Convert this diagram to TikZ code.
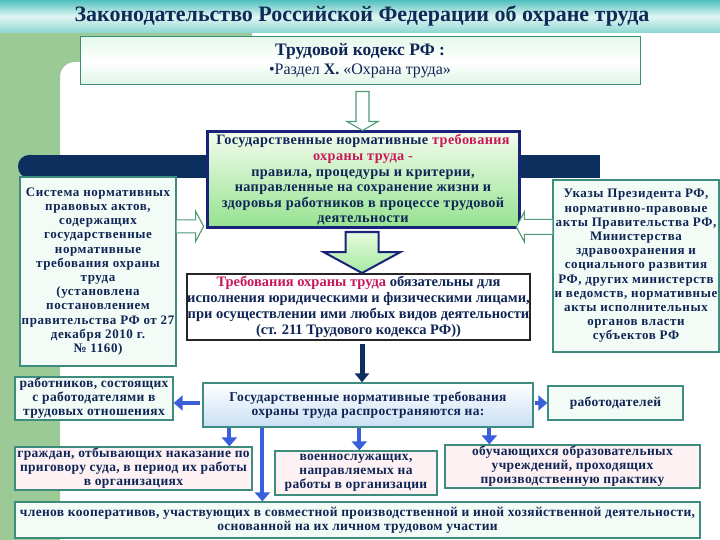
\documentclass[tikz,border=0pt]{standalone}
\usepackage{fontspec}
\setmainfont{Liberation Serif}
\newfontfamily\lsA{Liberation Serif}[LetterSpace=4.5]
\newfontfamily\lsB{Liberation Serif}[LetterSpace=2.5]
\newfontfamily\lsC{Liberation Serif}[LetterSpace=2.5]
\usetikzlibrary{calc,arrows.meta}
\definecolor{txtnavy}{HTML}{0F2556}
\definecolor{titlenavy}{HTML}{0E2A57}
\definecolor{crim}{HTML}{C8185A}
\definecolor{tealb}{HTML}{3E8C7E}
\definecolor{mintf}{HTML}{F2FBF5}
\definecolor{pinkf}{HTML}{FDF1F4}
\definecolor{gstrip}{HTML}{9CCA97}
\definecolor{bandnavy}{HTML}{0D2F5E}
\definecolor{cborder}{HTML}{19237A}
\definecolor{bluearr}{HTML}{3A5FDB}
\definecolor{hollowg}{HTML}{4E9B76}
\definecolor{tbtop}{HTML}{4FC0BD}
\definecolor{tbmid}{HTML}{E2F6F4}
\definecolor{tbbot}{HTML}{8AD6D1}
\definecolor{tktop}{HTML}{E4F8EA}
\definecolor{tkbot}{HTML}{E0F5E6}
\definecolor{centop}{HTML}{F3FCEC}
\definecolor{cenbot}{HTML}{94E290}
\definecolor{mbbot}{HTML}{C9DFF4}
\definecolor{artop}{HTML}{E6FBDF}
\definecolor{arbot}{HTML}{A6EAA2}
\tikzset{
  box/.style={draw=tealb, line width=1.3pt, align=center, inner sep=0pt, text=txtnavy},
  mintbox/.style={box, fill=mintf},
  pinkbox/.style={box, fill=pinkf},
  fa/.style={font=\lsA\fontsize{13}{14.2}\selectfont\bfseries},
  fb/.style={font=\fontsize{14.5}{16.2}\selectfont\bfseries},
  fbc/.style={font=\lsB\fontsize{14.3}{15.6}\selectfont\bfseries},
  fc/.style={font=\lsC\fontsize{13.5}{14}\selectfont\bfseries},
  hollowarr/.style={draw=hollowg, line width=1.1pt, fill=white, line join=miter},
  bluearrow/.style={draw=bluearr, line width=4pt, -{Triangle[width=15pt,length=9pt]}},
}
\begin{document}
\begin{tikzpicture}[x=1pt,y=-1pt]
\useasboundingbox (0,0) rectangle (720,540);
\fill[white] (0,0) rectangle (720,540);
% green strip
\fill[gstrip] (0,33) -- (252,33) -- (252,62) -- (75,62) .. controls (66.7,62) and (60,68.3) .. (60,77) -- (60,540) -- (0,540) -- cycle;
% title band
\fill[top color=tbtop, bottom color=tbbot, middle color=tbmid] (0,0) rectangle (720,33);
\node[font=\fontsize{22}{24}\selectfont\bfseries, text=titlenavy] (title) at (362,16) {Законодательство Российской Федерации об охране труда};
% navy band
\fill[bandnavy, rounded corners=11pt] (18,155) rectangle (44,178);
\fill[bandnavy] (30,155) rectangle (600,178);
% box 1
\node[box, line width=1pt, top color=tktop, bottom color=tkbot, middle color=white, minimum width=560, minimum height=48] (tk) at (360,61)
  {{\fontsize{17.5}{19}\selectfont\bfseries Трудовой кодекс РФ :}\\[4pt]{\fontsize{16}{17}\selectfont •Раздел \textbf{X.} «Охрана труда»}};
% central box
\node[box, fbc, draw=cborder, line width=3pt, top color=centop, bottom color=cenbot, minimum width=312, minimum height=96] (cen) at (363,180)
  {Государственные нормативные \textcolor{crim}{требования}\\
   \textcolor{crim}{охраны труда -}\\
   правила, процедуры и критерии,\\
   направленные на сохранение жизни и\\
   здоровья работников в процессе трудовой\\
   деятельности};
% requirement box
\node[box, fb, draw=black!85, line width=2pt, fill=white, minimum width=337, minimum height=66] (req) at (358.5,307)
  {\textcolor{crim}{Требования охраны труда} обязательны для\\
   исполнения юридическими и физическими лицами,\\
   при осуществлении ими любых видов деятельности\\
   (ст. 211 Трудового кодекса РФ))};
% left system box
\node[mintbox, fa, minimum width=156, minimum height=189] (sys) at (98,271.5)
  {Система нормативных\\ правовых актов,\\ содержащих\\ государственные\\ нормативные\\ требования охраны\\ труда\\ (установлена\\ постановлением\\ правительства РФ от 27\\ декабря 2010 г.\\ № 1160)};
% right box
\node[mintbox, fa, minimum width=166, minimum height=172] (ukaz) at (636,266)
  {Указы Президента РФ,\\ нормативно-правовые\\ акты Правительства РФ,\\ Министерства\\ здравоохранения и\\ социального развития\\ РФ, других министерств\\ и ведомств, нормативные\\ акты исполнительных\\ органов власти\\ субъектов РФ};
% bottom main box
\node[box, fc, top color=white, bottom color=mbbot, minimum width=330, minimum height=44] (mainb) at (368,405)
  {Государственные нормативные требования\\ охраны труда распространяются на:};
\node[mintbox, fc, minimum width=158, minimum height=43] (wrk) at (94,398.5)
  {работников, состоящих\\ с работодателями в\\ трудовых отношениях};
\node[mintbox, fc, minimum width=135, minimum height=34] (emp) at (615.5,403) {работодателей};
\node[pinkbox, fc, minimum width=237, minimum height=43] (gr) at (133.5,468.5)
  {граждан, отбывающих наказание по\\ приговору суда, в период их работы\\ в организациях};
\node[pinkbox, fc, minimum width=162, minimum height=44] (mil) at (356,473)
  {военнослужащих,\\ направляемых на\\ работы в организации};
\node[pinkbox, fc, minimum width=255, minimum height=43] (stu) at (572.5,466.5)
  {обучающихся образовательных\\ учреждений, проходящих\\ производственную практику};
\node[mintbox, fc, minimum width=685, minimum height=36] (coop) at (357.5,520)
  {членов кооперативов, участвующих в совместной производственной и иной хозяйственной деятельности,\\ основанной на их личном трудовом участии};
% hollow arrow tk -> cen
\coordinate (t1) at ($(cen.north)+(-0.5,0)$);
\draw[hollowarr] ($(t1)+(-6.5,-39)$) -- ($(t1)+(6.5,-39)$) -- ($(t1)+(6.5,-9)$) -- ($(t1)+(15.5,-9)$) -- (t1) -- ($(t1)+(-15.5,-9)$) -- ($(t1)+(-6.5,-9)$) -- cycle;
% hollow arrow sys -> cen
\coordinate (s3) at ($(sys.north east)+(0,50)$);
\draw[hollowarr] ($(s3)+(0,-6.5)$) -- ($(s3)+(19,-6.5)$) -- ($(s3)+(19,-15)$) -- ($(s3)+(27,0)$) -- ($(s3)+(19,15)$) -- ($(s3)+(19,6.5)$) -- ($(s3)+(0,6.5)$);
% hollow arrow ukaz -> cen
\coordinate (s4) at ($(ukaz.north west)+(0,47.5)$);
\draw[hollowarr] ($(s4)+(0,-7.5)$) -- ($(s4)+(-28,-7.5)$) -- ($(s4)+(-28,-15)$) -- ($(s4)+(-36,0)$) -- ($(s4)+(-28,15)$) -- ($(s4)+(-28,7.5)$) -- ($(s4)+(0,7.5)$);
% hollow down arrow cen -> req
\coordinate (t2) at ($(req.north)+(3.5,0)$);
\draw[draw=cborder, line width=2pt, top color=artop, bottom color=arbot, line join=miter]
  ($(t2)+(-16.5,-41)$) -- ($(t2)+(16.5,-41)$) -- ($(t2)+(16.5,-21)$) -- ($(t2)+(38.5,-21)$) -- (t2) -- ($(t2)+(-38.5,-21)$) -- ($(t2)+(-16.5,-21)$) -- cycle;
% navy arrow req -> mainb
\draw[draw=bandnavy, line width=5pt, -{Triangle[width=14pt,length=9pt]}] ($(req.south)+(3.5,3)$) -- ($(mainb.north)+(-6,0)$);
% blue arrows
\draw[bluearrow] ($(mainb.west)+(-2,-2)$) -- ($(mainb.west -| wrk.east)+(0,-2)$);
\draw[bluearrow] ($(mainb.east)+(1,-2)$) -- ($(mainb.east -| emp.west)+(0,-2)$);
\draw[bluearrow] ($(mainb.south west)+(27,0)$) -- ($(gr.north west)+(215,0)$);
\draw[bluearrow] ($(mainb.south west)+(60,0)$) -- ($(coop.north west)+(248,0)$);
\draw[bluearrow] ($(mainb.south west)+(157,0)$) -- ($(mil.north west)+(85,0)$);
\draw[bluearrow] ($(mainb.south west)+(287,0)$) -- ($(stu.north west)+(45,0)$);
\end{tikzpicture}
\end{document}
